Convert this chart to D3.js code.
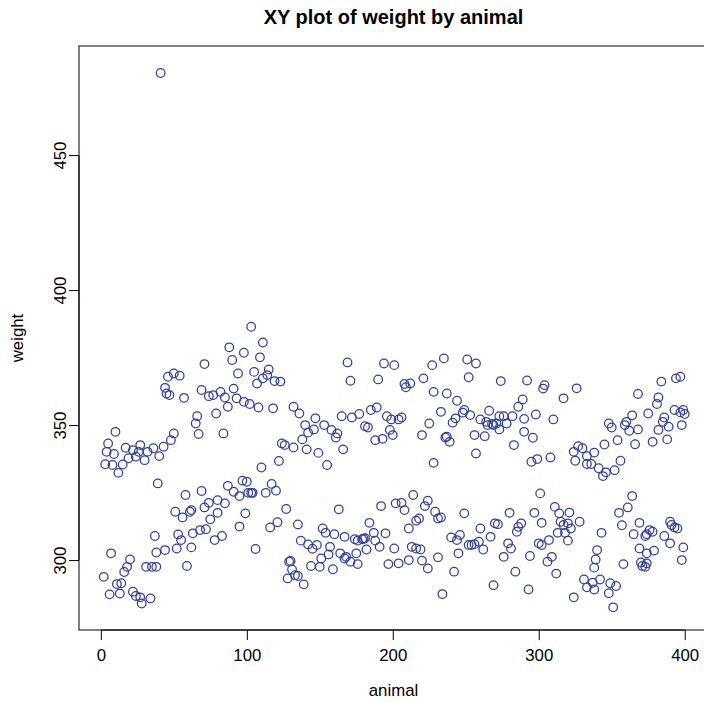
<!DOCTYPE html>
<html>
<head>
<meta charset="utf-8">
<script src="https://cdn.jsdelivr.net/npm/d3@7"></script>
<style>
  html, body { margin: 0; padding: 0; background: #fff; }
  svg { display: block; font-family: "Liberation Sans", Arial, Helvetica, sans-serif; }
</style>
</head>
<body>
<svg id="chart" width="704" height="702"></svg>
<script>
// Animal id and its weight, one entry per observation.
const animal = [
  10,5,4,9,3,8,15,12,17,22,19,27,24,30,26, 7,20,18,16,2,11,14,6,13,22,24,27,28,
  46,50,54,44,45,47,57,50,48,43,36,32,40,39,41, 58,51,56,61,62,63,37,53,55,44,38,52,62,31,35,38,59,34,
  88,90,98,71,94,69,91,74,77,82,85,93,98,87,79,66,65,67,84, 97,87,69,91,95,80,74,71,85,80,75,99,95,68,72,78,83,
  103,111,109,105,115,114,111,107,119,123,102,108,118,132,124,126,132,122,110, 100,101,103,104,117,113,120,127,121,116,106,129,130,131,128,133,
  136,147,140,142,146,153,158,162,161,165,138,141,149,166,155, 163,135,152,154,160,167,137,142,145,148,157,151,156,164,167,144,150,159,135,139,
  169,194,201,171,190,172,177,185,189,196,199,181,183,198,200,188,193, 192,184,174,176,179,180,181,187,188,195,191,182,175,201,168,171,176,197,202,
  227,235,208,209,212,221,228,233,225,204,206,220,236,228, 214,206,208,224,222,229,231,233,218,216,211,213,216,219,204,211,220,231,224,234,
  251,257,252,237,244,248,249,253,243,241,266,260,264,265,268,269,256,263,237,239,257, 249,260,270,246,244,240,252,254,256,259,262,267,245,242,269,
  274,292,304,303,289,286,271,273,273,276,282,278,290,298,290,296,283,295,299, 301,280,297,272,302,288,286,285,279,281,300,302,276,294,284,293,
  326,317,310,308,327,330,324,333,325,333,336,338, 311,314,321,328,315,317,320,322,313,318,320,307,309,306,312,338,331,333,337,338,324,
  368,348,350,360,359,364,362,368,354,366,345,356,341,346,344,352, 364,361,355,369,357,365,373,343,369,370,371,340,339,358,342,349,353,348,351,
  394,397,384,382,381,375,393,397,399,400,398,386,385,389,382,378,388, 390,391,393,395,376,378,374,386,390,379,399,374,374,373,398
];
const weight = [
  347.5,343.2,340.1,339.3,335.5,335.2,335.4,332.3,341.6,340.7,337.7,342.6,338.3,337.0,340.1, 302.5,300.2,297.5,295.6,293.8,291.1,291.4,287.3,287.6,288.3,286.7,286.2,283.9,
  367.9,369.1,368.3,363.8,361.7,361.1,360.1,346.9,344.4,342.0,341.4,340.1,338.5,328.4,480.4, 324.1,317.9,315.8,317.9,318.5,309.9,308.9,309.5,307.4,303.7,302.8,304.3,304.7,297.5,297.5,297.5,297.8,285.8,
  378.8,374.1,376.8,372.6,369.1,363.0,363.5,360.7,361.1,362.3,360.2,359.9,358.6,356.8,354.3,353.3,350.6,346.7,346.9, 329.4,327.5,325.6,325.3,323.7,322.2,321.2,319.5,321.0,317.5,315.1,317.3,312.4,311.1,311.4,307.4,308.9,
  386.4,380.6,375.1,369.7,370.6,368.5,367.3,365.4,366.3,366.1,357.8,356.5,356.2,356.8,343.2,342.6,341.7,336.7,334.3, 329.0,324.9,324.9,324.9,328.2,324.9,325.7,318.9,314.0,312.1,304.1,299.4,299.7,296.5,293.2,294.4,
  354.3,352.5,350.0,347.2,348.4,350.0,348.2,346.9,345.4,353.3,344.7,341.0,339.7,341.0,335.2, 318.8,313.2,311.7,310.1,309.6,308.6,307.2,305.8,304.2,305.6,304.9,300.6,302.1,302.5,300.6,297.8,297.5,296.6,294.1,291.0,
  373.2,372.8,372.2,366.4,366.9,352.8,354.1,355.6,356.5,353.3,352.1,349.6,349.1,348.2,346.3,344.4,344.9, 320.0,313.8,307.7,307.2,307.7,307.9,308.1,310.1,307.2,309.9,304.9,303.9,302.5,304.3,301.2,299.4,298.5,298.5,321.0,
  372.2,374.7,365.2,364.0,365.4,367.3,362.3,354.9,350.6,352.1,352.8,346.3,345.4,336.0, 324.1,321.2,318.5,322.0,320.0,317.9,315.4,315.8,315.4,314.6,311.7,304.9,304.3,303.9,298.8,300.0,299.8,301.0,296.9,287.4,
  374.3,372.8,367.7,361.7,359.0,354.6,355.6,353.7,352.5,350.9,355.3,352.1,351.2,350.0,350.4,350.0,346.3,345.9,345.7,343.8,339.5, 317.3,311.7,313.6,309.3,307.4,308.4,305.6,305.6,305.9,306.8,303.9,308.6,302.5,295.7,290.7,
  366.3,366.5,364.8,363.5,359.5,356.8,350.6,348.4,353.3,353.3,353.3,350.6,352.3,353.9,347.5,345.3,342.6,336.4,337.4, 324.7,317.5,317.5,313.3,313.8,313.6,312.3,310.5,306.2,304.3,306.2,305.6,301.2,301.5,295.7,289.1,
  363.6,359.9,352.1,338.0,342.2,341.4,340.1,338.5,336.8,335.6,335.6,339.8, 319.7,317.3,317.6,314.2,314.2,313.0,313.6,311.7,310.1,310.1,307.2,307.4,301.2,299.4,295.0,297.2,292.8,289.9,291.6,289.1,286.2,
  361.5,350.6,349.1,351.2,350.0,353.6,347.9,348.4,344.4,342.9,342.8,336.8,334.0,332.5,331.1,333.3, 323.7,319.5,317.5,313.8,312.9,309.6,308.9,310.1,304.3,299.1,297.8,303.7,300.2,298.5,292.8,291.4,290.4,287.7,282.5,
  367.3,367.9,366.1,360.2,357.8,354.3,355.6,354.7,355.6,354.1,350.0,352.8,351.2,349.4,348.2,343.8,344.7, 314.2,313.0,312.1,311.7,311.1,310.5,309.6,308.9,306.2,303.5,304.7,302.5,298.8,297.5,300.0
];
const xTicks = [0, 100, 200, 300, 400];
const yTicks = [300, 350, 400, 450];
const xDomain = [-14.96, 415.96];
const yDomain = [274.1, 490.4];

const titleText = "XY plot of weight by animal";
const xLabel = "animal";
const yLabel = "weight";

const svg = d3.select("#chart");
const box = { left: 79, right: 708, top: 46, bottom: 630 };
const ink = "#2f3f9f";

const x = d3.scaleLinear().domain(xDomain).range([box.left, box.right]);
const y = d3.scaleLinear().domain(yDomain).range([box.bottom, box.top]);

const points = animal.map((a, i) => ({ a, w: weight[i] }));

// Points
svg.append("g")
  .selectAll("circle")
  .data(points)
  .join("circle")
  .attr("cx", d => x(d.a))
  .attr("cy", d => y(d.w))
  .attr("r", 4.3)
  .attr("fill", "none")
  .attr("stroke", ink)
  .attr("stroke-width", 1.25);

// Plot frame
svg.append("rect")
  .attr("x", box.left).attr("y", box.top)
  .attr("width", box.right - box.left).attr("height", box.bottom - box.top)
  .attr("fill", "none").attr("stroke", "#000").attr("stroke-width", 1);

// Bottom axis
const gx = svg.append("g")
  .attr("transform", `translate(0,${box.bottom})`)
  .call(d3.axisBottom(x).tickValues(xTicks).tickSize(10).tickSizeOuter(0).tickFormat(d3.format("d")));
gx.select(".domain").attr("d", `M${x(xTicks[0])},0H${x(xTicks[xTicks.length - 1])}`);
gx.selectAll("line").attr("stroke", "#000");
gx.selectAll("text")
  .attr("y", 25).attr("dy", "0.35em")
  .attr("font-size", 16.8).attr("font-family", null).attr("fill", "#000");

// Left axis
const gy = svg.append("g")
  .attr("transform", `translate(${box.left},0)`)
  .call(d3.axisLeft(y).tickValues(yTicks).tickSize(10).tickSizeOuter(0).tickFormat(d3.format("d")));
gy.select(".domain").attr("d", `M0,${y(yTicks[0])}V${y(yTicks[yTicks.length - 1])}`);
gy.selectAll("line").attr("stroke", "#000");
gy.selectAll("text")
  .attr("x", null).attr("dy", null)
  .attr("text-anchor", "middle")
  .attr("dominant-baseline", "central")
  .attr("transform", "translate(-19,0) rotate(-90)")
  .attr("font-size", 16.8).attr("font-family", null).attr("fill", "#000");

// Titles
svg.append("text")
  .attr("x", (box.left + box.right) / 2).attr("y", 17)
  .attr("text-anchor", "middle").attr("dominant-baseline", "central")
  .attr("font-size", 20).attr("font-weight", "bold")
  .text(titleText);

svg.append("text")
  .attr("x", (box.left + box.right) / 2).attr("y", 690)
  .attr("text-anchor", "middle").attr("dominant-baseline", "central")
  .attr("font-size", 16.8)
  .text(xLabel);

svg.append("text")
  .attr("transform", `translate(17,${(box.top + box.bottom) / 2}) rotate(-90)`)
  .attr("text-anchor", "middle").attr("dominant-baseline", "central")
  .attr("font-size", 16.8)
  .text(yLabel);
</script>
</body>
</html>
